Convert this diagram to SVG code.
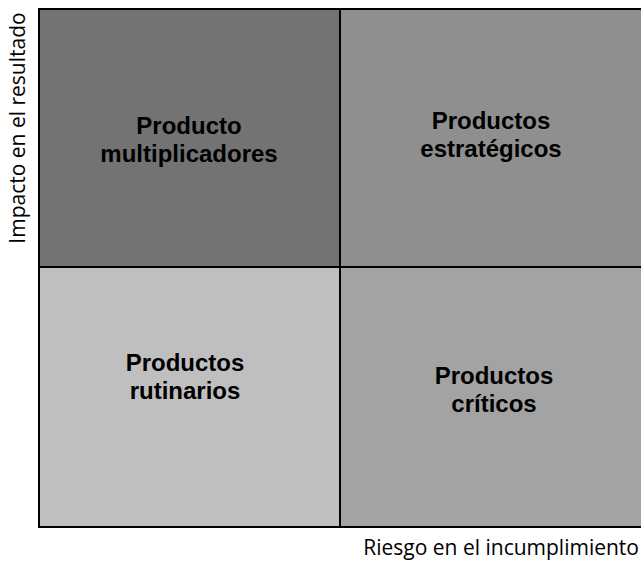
<svg xmlns="http://www.w3.org/2000/svg" width="641" height="565" viewBox="0 0 641 565">
<style>
.cell{stroke:#000;stroke-width:2}
.lbl{font-family:"Liberation Sans",Arial,sans-serif;font-weight:bold;font-size:24px;text-anchor:middle;fill:#000}
.ax{font-family:"Open Sans","Liberation Sans",sans-serif;font-size:21px;fill:#000}
</style>
<rect width="641" height="565" fill="#fff"/>
<g id="q-multiplicadores">
<rect class="cell" x="39" y="9" width="301" height="258" fill="#737373"/>
<text class="lbl" x="189" y="134">Producto<tspan x="189" dy="28">multiplicadores</tspan></text>
</g>
<g id="q-estrategicos">
<rect class="cell" x="340" y="9" width="302" height="258" fill="#8f8f8f"/>
<text class="lbl" x="491" y="129">Productos<tspan x="491" dy="28">estratégicos</tspan></text>
</g>
<g id="q-rutinarios">
<rect class="cell" x="39" y="267" width="301" height="260" fill="#bfbfbf"/>
<text class="lbl" x="185" y="371">Productos<tspan x="185" dy="28">rutinarios</tspan></text>
</g>
<g id="q-criticos">
<rect class="cell" x="340" y="267" width="302" height="260" fill="#a3a3a3"/>
<text class="lbl" x="494" y="384">Productos<tspan x="494" dy="28">críticos</tspan></text>
</g>
<g id="axes">
<text class="ax" transform="translate(25,128) rotate(-90)" text-anchor="middle">Impacto en el resultado</text>
<text class="ax" x="639" y="555" text-anchor="end">Riesgo en el incumplimiento</text>
</g>
</svg>
